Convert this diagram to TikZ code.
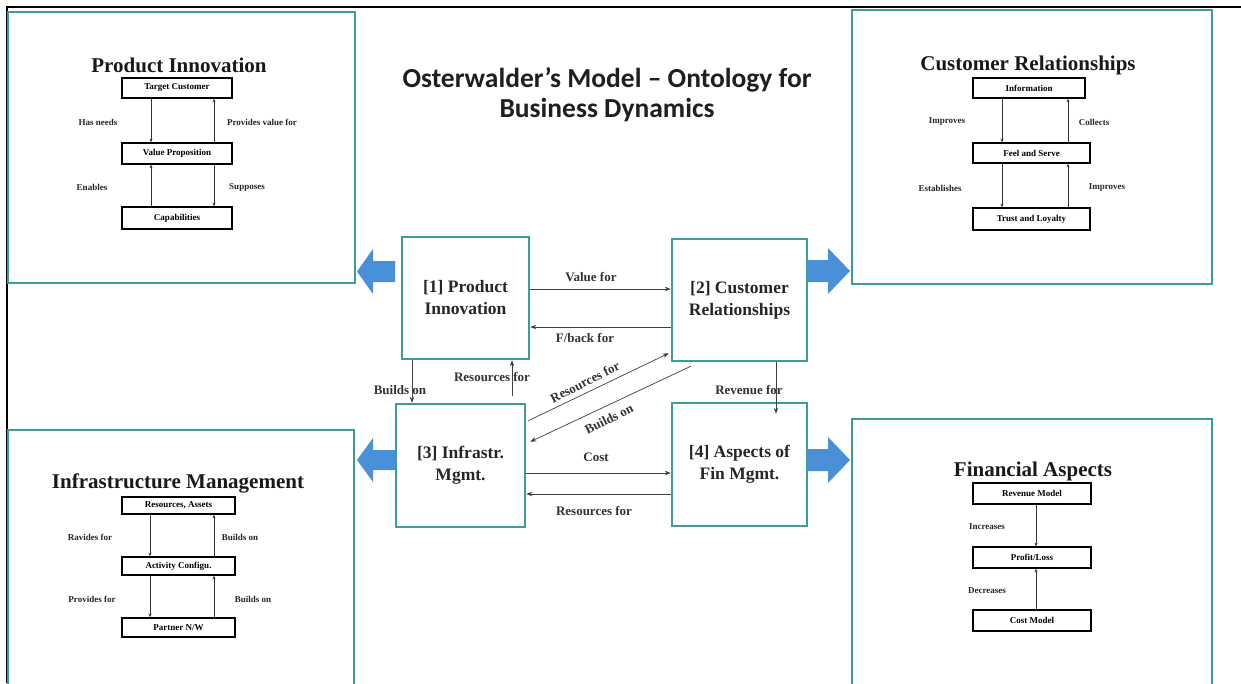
\documentclass[tikz,border=0pt]{standalone}
\usepackage{fontspec}
\setmainfont{Liberation Serif}
\newfontfamily\titlefont{Carlito}
\usetikzlibrary{arrows.meta}
\definecolor{tealbox}{RGB}{58,158,150}
\definecolor{bluearr}{RGB}{74,144,217}
\begin{document}
\begin{tikzpicture}[x=1pt,y=-1pt,
  panel/.style={draw=tealbox, line width=2.5pt, inner sep=0pt},
  core/.style={draw=tealbox, line width=2.5pt, align=center, inner sep=0pt,
    font=\fontsize{17.5}{22}\selectfont\bfseries, text=black!85},
  sub/.style={draw=black, line width=1.6pt, inner sep=0pt,
    font=\fontsize{9}{10}\selectfont\bfseries},
  ptitle/.style={font=\fontsize{21}{24}\selectfont\bfseries, text=black!90},
  lab/.style={font=\fontsize{13}{14}\selectfont\bfseries, text=black!80, inner sep=1pt},
  slab/.style={font=\fontsize{9}{10}\selectfont\bfseries, text=black!85, inner sep=1pt},
  arr/.style={-{Stealth[length=6pt,width=4.5pt]}, line width=0.7pt, draw=black!75},
  sarr/.style={-{Stealth[length=3.5pt,width=3pt]}, line width=0.5pt, draw=black!80},
  blk/.style={fill=bluearr},
  ttl/.style={font=\titlefont\bfseries\fontsize{27.5}{29}\selectfont, text=black!88, anchor=base}
]
\useasboundingbox (0,0) rectangle (1241,683);
\clip (0,0) rectangle (1241,683);
\fill[white] (0,0) rectangle (1241,683);

% outer frame lines
\coordinate (fA) at (7,683);
\coordinate (fB) at (7,7);
\coordinate (fC) at (1241,7);
\draw[line width=1.4pt] (fA) -- (fB) -- (fC);

% title
\node[ttl] (t1) at (607,87) {Osterwalder’s Model – Ontology for};
\node[ttl] (t2) at (607,117) {Business Dynamics};

% corner panels
\node[panel, minimum width=347pt, minimum height=271pt] (P1) at (181.5,147.5) {};
\node[panel, minimum width=360pt, minimum height=274pt] (P2) at (1032,147) {};
\node[panel, minimum width=346pt, minimum height=270pt] (P3) at (181,565) {};
\node[panel, minimum width=360pt, minimum height=281pt] (P4) at (1032,559.5) {};

% central boxes
\node[core, minimum width=127pt, minimum height=122pt] (b1) at (465.5,298) {[1] Product\\Innovation};
\node[core, minimum width=135pt, minimum height=122pt] (b2) at (739.5,300) {[2] Customer\\Relationships};
\node[core, minimum width=129pt, minimum height=123pt] (b3) at (460.5,465.5) {[3] Infrastr.\\Mgmt.};
\node[core, minimum width=135pt, minimum height=123pt] (b4) at (739.5,464.5) {[4] Aspects of\\Fin Mgmt.};

% central connectors
\coordinate (c1) at ([yshift=9pt]b1.east);
\draw[arr] (c1) -- (c1 -| b2.west);
\node[lab] (l1) at (591,277) {Value for};

\coordinate (c2) at ([yshift=-27pt]b2.west);
\draw[arr] (c2) -- (c2 -| b1.east);
\node[lab] (l2) at (585,338) {F/back for};

\coordinate (c3) at ([xshift=-53.5pt]b1.south);
\draw[arr] (c3) -- (c3 |- b3.north);
\node[lab] (l3) at (400,390) {Builds on};

\coordinate (c4) at ([xshift=51.5pt,yshift=7pt]b3.north);
\draw[arr] (c4) -- (c4 |- b1.south);
\node[lab] (l4) at (492,377) {Resources for};

\coordinate (c5a) at ([xshift=2pt,yshift=-18pt]b3.north east);
\coordinate (c5b) at ([xshift=-2pt,yshift=9pt]b2.south west);
\draw[arr] (c5a) -- (c5b);
\node[lab, rotate=27] (l5) at (585,382) {Resources for};

\coordinate (c6a) at ([xshift=20pt,yshift=-4pt]b2.south west);
\coordinate (c6b) at ([xshift=4pt,yshift=-39pt]b3.north east);
\draw[arr] (c6a) -- (c6b);
\node[lab, rotate=27] (l6) at (609,419) {Builds on};

\coordinate (c7a) at ([xshift=36.5pt]b2.south);
\coordinate (c7b) at ([xshift=36.5pt,yshift=-12pt]b4.north);
\draw[arr] (c7a) -- (c7b);
\node[lab] (l7) at (749,390) {Revenue for};

\coordinate (c8) at ([yshift=-7.5pt]b3.east);
\draw[arr] (c8) -- (c8 -| b4.west);
\node[lab] (l8) at (596,457) {Cost};

\coordinate (c9) at ([yshift=-29.5pt]b4.west);
\draw[arr] (c9) -- (c9 -| b3.east);
\node[lab] (l9) at (594,511) {Resources for};

% blue block arrows
\fill[blk] (395,261) -- (373,261) -- (373,249) -- (357,271.5) -- (373,294) -- (373,282) -- (395,282) -- cycle;
\fill[blk] (807,260) -- (828,260) -- (828,248) -- (850,271) -- (828,294) -- (828,282) -- (807,282) -- cycle;
\fill[blk] (395,450) -- (373,450) -- (373,438) -- (357,460) -- (373,482) -- (373,470) -- (395,470) -- cycle;
\fill[blk] (807,449) -- (828,449) -- (828,437) -- (850,460) -- (828,483) -- (828,471) -- (807,471) -- cycle;

% ---- Product Innovation panel
\node[ptitle] (pt1) at (179,65) {Product Innovation};
\node[sub, minimum width=110pt, minimum height=20pt] (tc) at (177,88) {Target Customer};
\node[sub, minimum width=110pt, minimum height=21pt] (vp) at (177,153.5) {Value Proposition};
\node[sub, minimum width=110pt, minimum height=22pt] (cap) at (177,218) {Capabilities};
\draw[sarr] ([xshift=-26pt]tc.south) -- ([xshift=-26pt]vp.north);
\draw[sarr] ([xshift=37pt]vp.north) -- ([xshift=37pt]tc.south);
\draw[sarr] ([xshift=-26pt]cap.north) -- ([xshift=-26pt]vp.south);
\draw[sarr] ([xshift=37pt]vp.south) -- ([xshift=37pt]cap.north);
\node[slab] (s1) at (98,122) {Has needs};
\node[slab] (s2) at (262,122) {Provides value for};
\node[slab] (s3) at (92,187) {Enables};
\node[slab] (s4) at (247,187) {Supposes};

% ---- Customer Relationships panel
\node[ptitle] (pt2) at (1028,65) {Customer Relationships};
\node[sub, minimum width=112pt, minimum height=20pt] (inf) at (1029,88) {Information};
\node[sub, minimum width=117pt, minimum height=20pt] (fs) at (1031.5,153) {Feel and Serve};
\node[sub, minimum width=117pt, minimum height=22pt] (tl) at (1031.5,219) {Trust and Loyalty};
\draw[sarr] ([xshift=-27pt]inf.south) -- ([xshift=-29.5pt]fs.north);
\draw[sarr] ([xshift=36.5pt]fs.north) -- ([xshift=39pt]inf.south);
\draw[sarr] ([xshift=-29.5pt]fs.south) -- ([xshift=-29.5pt]tl.north);
\draw[sarr] ([xshift=36.5pt]tl.north) -- ([xshift=36.5pt]fs.south);
\node[slab] (s5) at (947,122) {Improves};
\node[slab] (s6) at (1094,122) {Collects};
\node[slab] (s7) at (940,188) {Establishes};
\node[slab] (s8) at (1107,188) {Improves};

% ---- Infrastructure Management panel
\node[ptitle] (pt3) at (178,483) {Infrastructure Management};
\node[sub, minimum width=113pt, minimum height=17pt] (ra) at (178.5,505.5) {Resources, Assets};
\node[sub, minimum width=113pt, minimum height=18pt] (ac) at (178.5,566) {Activity Configu.};
\node[sub, minimum width=113pt, minimum height=19pt] (pn) at (178.5,627.5) {Partner N/W};
\draw[sarr] ([xshift=-28.5pt]ra.south) -- ([xshift=-28.5pt]ac.north);
\draw[sarr] ([xshift=35.5pt]ac.north) -- ([xshift=35.5pt]ra.south);
\draw[sarr] ([xshift=-28.5pt]ac.south) -- ([xshift=-28.5pt]pn.north);
\draw[sarr] ([xshift=35.5pt]pn.north) -- ([xshift=35.5pt]ac.south);
\node[slab] (s9) at (90,537) {Ravides for};
\node[slab] (s10) at (240,537) {Builds on};
\node[slab] (s11) at (92,599) {Provides for};
\node[slab] (s12) at (253,599) {Builds on};

% ---- Financial Aspects panel
\node[ptitle] (pt4) at (1033,471) {Financial Aspects};
\node[sub, minimum width=118pt, minimum height=21pt] (rm) at (1032,493.5) {Revenue Model};
\node[sub, minimum width=118pt, minimum height=21pt] (pl) at (1032,557.5) {Profit/Loss};
\node[sub, minimum width=118pt, minimum height=21pt] (cm) at (1032,620.5) {Cost Model};
\draw[sarr] ([xshift=4pt]rm.south) -- ([xshift=4pt]pl.north);
\draw[sarr] ([xshift=4pt]cm.north) -- ([xshift=4pt]pl.south);
\node[slab] (s13) at (987,527) {Increases};
\node[slab] (s14) at (987,591) {Decreases};
\end{tikzpicture}
\end{document}
